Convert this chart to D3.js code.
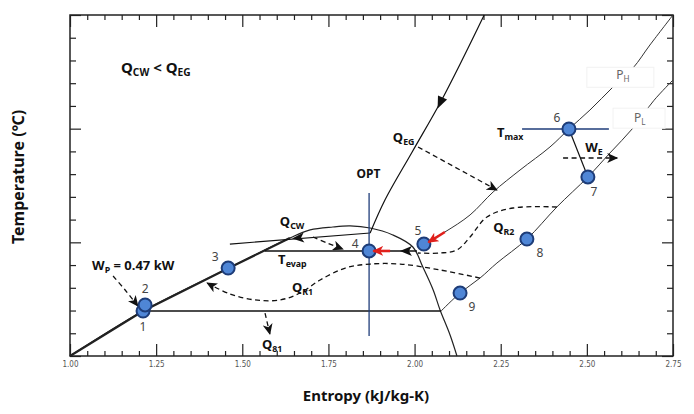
<!DOCTYPE html>
<html><head><meta charset="utf-8">
<script src="https://cdn.jsdelivr.net/npm/d3@7/dist/d3.min.js"></script>
<style>
body{margin:0;background:#fff;}
text{font-family:"Noto Sans","Open Sans",sans-serif;}
</style>
</head><body>
<svg id="c" width="694" height="414"></svg>
<script>
// ---------- data ----------
const xTicks = [1.00, 1.25, 1.50, 1.75, 2.00, 2.25, 2.50, 2.75];
const xTickLabels = ["1.00", "1.25", "1.50", "1.75", "2.00", "2.25", "2.50", "2.75"];
const yTicks = [0, 100, 200, 300];

// saturation dome (entropy, temperature)
const domeS = [1.000, 1.212, 1.461, 1.638, 1.697, 1.763, 1.813, 1.871, 1.937, 1.995, 2.024, 2.054, 2.074, 2.103, 2.123];
const domeT = [0.0, 39.6, 77.4, 103.8, 110.9, 113.5, 114.4, 112.6, 106.5, 95.9, 78.3, 58.1, 40.5, 18.5, 0.0];

// high-pressure isobar P_H
const phS = [2.030, 2.088, 2.161, 2.228, 2.306, 2.393, 2.448, 2.509, 2.576, 2.634, 2.683, 2.750];
const phT = [99.4, 109.1, 124.1, 144.3, 163.6, 183.9, 199.7, 216.4, 236.7, 253.4, 273.6, 300.0];

// low-pressure isobar P_L
const plS = [1.212, 2.077, 2.132, 2.190, 2.239, 2.326, 2.413, 2.503, 2.567, 2.634, 2.695, 2.750];
const plT = [39.6, 39.6, 55.4, 68.6, 81.8, 102.9, 131.1, 157.5, 178.6, 200.6, 225.0, 242.8];

// exhaust gas line Q_EG
const egS = [1.871, 1.914, 1.993, 2.074, 2.138, 2.202];
const egT = [108.2, 137.2, 179.5, 222.6, 260.4, 300.0];

// cooling water line Q_CW and evaporation line T_evap
const cwS = [1.464, 1.871];
const cwT = [98.5, 108.2];
const evapS = [1.565, 2.007];
const evapT = [92.4, 92.4];

// cycle state points
const stateLabels = ["1", "2", "3", "4", "5", "6", "7", "8", "9"];
const stateS = [1.212, 1.218, 1.459, 1.868, 2.027, 2.448, 2.503, 2.326, 2.132];
const stateT = [39.6, 44.9, 77.4, 92.4, 98.5, 199.7, 157.5, 102.9, 55.4];

// reference lines
const optS = 1.868, optT = [17.6, 143.4];
const tmaxT = 199.7, tmaxS = [2.312, 2.564];

// dashed heat-flow curves
const qr1S = [2.190, 2.074, 1.958, 1.871, 1.799, 1.726, 1.668, 1.609, 1.537, 1.464, 1.398];
const qr1T = [68.6, 75.7, 80.9, 80.9, 77.4, 66.9, 55.4, 49.3, 49.3, 54.6, 64.2];
const qr2S = [2.413, 2.286, 2.210, 2.161, 2.123, 2.074, 2.010];
const qr2T = [131.1, 130.2, 122.3, 104.7, 93.3, 90.6, 90.6];
const qegArrowS = [2.010, 2.239], qegArrowT = [183.9, 146.0];
const qcwArrowS = [1.705, 1.750, 1.792], qcwArrowT = [104.7, 99.0, 94.1];
const wpArrowS = [1.125, 1.160, 1.197], wpArrowT = [70.4, 58.1, 44.0];
const q81ArrowS = [1.566, 1.580], q81ArrowT = [37.8, 19.4];
const weArrowS = [2.431, 2.588], weArrowT = [174.2, 174.2];

// red arrows
const red1S = [2.088, 2.040], red1T = [109.1, 100.0];
const red2S = [1.929, 1.880], red2T = [92.4, 92.4];

// ---------- layout ----------
const svg = d3.select("#c");
const L = 70, R = 673, T0 = 15, B = 356;
const x = d3.scaleLinear().domain([1.0, 2.75]).range([L, R]);
const y = d3.scaleLinear().domain([0, 300]).range([B, T0]);
const zip = (a, b) => a.map((v, i) => [v, b[i]]);
const line = d3.line().x(d => x(d[0])).y(d => y(d[1]));
const curve = d3.line().x(d => x(d[0])).y(d => y(d[1])).curve(d3.curveCatmullRom.alpha(0.5));

const defs = svg.append("defs");
function marker(id, color) {
  defs.append("marker").attr("id", id).attr("markerUnits", "userSpaceOnUse")
    .attr("markerWidth", 12).attr("markerHeight", 10).attr("refX", 10).attr("refY", 5)
    .attr("orient", "auto")
    .append("path").attr("d", "M0,0 L11,5 L0,10 L3,5 Z").attr("fill", color);
}
marker("ab", "#111");
marker("ar", "#e0201c");

// axes
const minorX = d3.range(1.0, 2.7501, 0.05).filter(v => Math.abs(v * 4 - Math.round(v * 4)) > 1e-6);
const minorY = d3.range(0, 300.1, 20).filter(v => v % 100 !== 0);
function ax(gen, tr, vals, size, fmt) {
  const g = svg.append("g").attr("transform", tr)
    .call(gen.tickValues(vals).tickSize(size).tickPadding(4).tickFormat(fmt));
  g.select(".domain").remove();
  g.selectAll("line").attr("stroke", "#222").attr("stroke-width", 1.2);
  return g;
}
const gx = ax(d3.axisBottom(x), `translate(0,${B})`, xTicks, -12, (d, i) => xTickLabels[i]);
gx.selectAll("text").attr("font-size", 8).attr("fill", "#555")
  .style("font-family", "'DejaVu Sans Condensed','DejaVu Sans',sans-serif").attr("dy", "0.9em");
ax(d3.axisBottom(x), `translate(0,${B})`, minorX, -5, "");
ax(d3.axisTop(x), `translate(0,${T0})`, xTicks, -12, "");
ax(d3.axisTop(x), `translate(0,${T0})`, minorX, -5, "");
ax(d3.axisLeft(y), `translate(${L},0)`, yTicks, -11, "");
ax(d3.axisLeft(y), `translate(${L},0)`, minorY, -6, "");
ax(d3.axisRight(y), `translate(${R},0)`, yTicks, -11, "");
ax(d3.axisRight(y), `translate(${R},0)`, minorY, -6, "");
svg.append("rect").attr("x", L).attr("y", T0).attr("width", R - L).attr("height", B - T0)
  .attr("fill", "none").attr("stroke", "#222").attr("stroke-width", 1.5);

// lines
const P = svg.append("g").attr("fill", "none");
P.append("path").attr("d", curve(zip(domeS, domeT))).attr("stroke", "#222").attr("stroke-width", 1.2);
P.append("path").attr("d", line(zip(domeS.slice(0, 4), domeT.slice(0, 4)))).attr("stroke", "#222").attr("stroke-width", 2.2);
P.append("path").attr("d", curve(zip(phS, phT))).attr("stroke", "#333").attr("stroke-width", 1);
P.append("path").attr("d", line(zip(plS.slice(0, 2), plT.slice(0, 2)))).attr("stroke", "#111").attr("stroke-width", 1.4);
P.append("path").attr("d", curve(zip(plS.slice(1), plT.slice(1)))).attr("stroke", "#333").attr("stroke-width", 1);
P.append("path").attr("d", curve(zip(egS, egT))).attr("stroke", "#111").attr("stroke-width", 1.2);
P.append("path").attr("d", line(zip(cwS, cwT))).attr("stroke", "#111").attr("stroke-width", 1.2);
P.append("path").attr("d", line(zip(evapS, evapT))).attr("stroke", "#111").attr("stroke-width", 1.4);
P.append("path").attr("d", line([[stateS[5], stateT[5]], [stateS[6], stateT[6]]])).attr("stroke", "#111").attr("stroke-width", 1.2);
// blue reference lines
P.append("path").attr("d", line([[optS, optT[0]], [optS, optT[1]]])).attr("stroke", "#1f3d7a").attr("stroke-width", 1.3);
P.append("path").attr("d", line([[tmaxS[0], tmaxT], [tmaxS[1], tmaxT]])).attr("stroke", "#1f3d7a").attr("stroke-width", 1.3);

// mid-line arrowheads
function headAt(s, t, s2, t2, shape) {
  const x1 = x(s), y1 = y(t), a = Math.atan2(y(t2) - y1, x(s2) - x1) * 180 / Math.PI;
  const d = shape === "tri" ? "M6,0 L-6,-5 L-6,5 Z" : "M5,0 L-7,-5 L-4,0 L-7,5 Z";
  svg.append("path").attr("d", d).attr("fill", "#111")
    .attr("transform", `translate(${x1},${y1}) rotate(${a})`);
}
headAt(2.074, 222.6, 2.040, 200, "tri");
headAt(1.659, 103.8, 1.600, 102.4, "chev");
headAt(1.972, 92.4, 1.900, 92.4, "chev");

// dashed arrows
const D = svg.append("g").attr("fill", "none").attr("stroke", "#111").attr("stroke-width", 1.3).attr("stroke-dasharray", "5,3.5");
D.append("path").attr("d", curve(zip(qr1S, qr1T))).attr("marker-end", "url(#ab)");
D.append("path").attr("d", curve(zip(qr2S, qr2T)));
D.append("path").attr("d", line(zip(qegArrowS, qegArrowT))).attr("marker-end", "url(#ab)");
D.append("path").attr("d", curve(zip(qcwArrowS, qcwArrowT))).attr("marker-end", "url(#ab)");
D.append("path").attr("d", curve(zip(wpArrowS, wpArrowT))).attr("marker-end", "url(#ab)");
D.append("path").attr("d", line(zip(q81ArrowS, q81ArrowT))).attr("marker-end", "url(#ab)");
D.append("path").attr("d", line(zip(weArrowS, weArrowT))).attr("marker-end", "url(#ab)");

// white label boxes for P_H / P_L
svg.append("rect").attr("x", x(2.500)).attr("y", y(254)).attr("width", 67).attr("height", 20).attr("fill", "#fff").attr("stroke", "#f2f2f2");
svg.append("rect").attr("x", x(2.576)).attr("y", y(218)).attr("width", 52).attr("height", 20).attr("fill", "#fff").attr("stroke", "#f2f2f2");

// state points
const pts = svg.append("g");
pts.selectAll("circle").data(stateS).join("circle")
  .attr("cx", d => x(d)).attr("cy", (d, i) => y(stateT[i])).attr("r", 6.5)
  .attr("fill", "#4f86d6").attr("stroke", "#1d3c78").attr("stroke-width", 2);
const off = [[0, 20], [0, -12], [-13, -7], [-14, -3], [-6, -9], [-12, -7], [6, 19], [13, 18], [12, 18]];
pts.selectAll("text").data(stateLabels).join("text")
  .attr("x", (d, i) => x(stateS[i]) + off[i][0]).attr("y", (d, i) => y(stateT[i]) + off[i][1])
  .attr("text-anchor", "middle").attr("font-size", 12).attr("fill", "#444").text(d => d);

// red arrows (drawn over the points)
svg.append("path").attr("d", line(zip(red1S, red1T))).attr("stroke", "#e0201c").attr("stroke-width", 2.6).attr("fill", "none").attr("marker-end", "url(#ar)");
svg.append("path").attr("d", line(zip(red2S, red2T))).attr("stroke", "#e0201c").attr("stroke-width", 2.6).attr("fill", "none").attr("marker-end", "url(#ar)");

// rich labels with subscripts
function rich(s, t, parts, size, opts = {}) {
  const tx = svg.append("text").attr("x", x(s)).attr("y", y(t)).attr("font-size", size)
    .attr("font-weight", opts.weight || 700).attr("fill", opts.color || "#111")
    .attr("text-anchor", opts.anchor || "start");
  parts.forEach(p => {
    const isSub = p[1] === "sub";
    const sp = tx.append("tspan").text(p[0]);
    if (isSub) sp.attr("font-size", size * 0.68).attr("dy", size * 0.22);
    else if (p[2]) sp.attr("dy", -size * 0.22);
  });
  return tx;
}
rich(1.148, 249.0, [["Q"], ["CW", "sub"], [" < Q", "", true], ["EG", "sub"]], 15);
rich(1.866, 156.6, [["OPT"]], 12, { anchor: "middle" });
rich(1.937, 188.3, [["Q"], ["EG", "sub"]], 13);
rich(2.239, 192.7, [["T"], ["max", "sub"]], 13);
rich(2.495, 179.5, [["W"], ["E", "sub"]], 13);
rich(2.585, 243.7, [["P"], ["H", "sub"]], 12, { weight: 400, color: "#666" });
rich(2.637, 205.9, [["P"], ["L", "sub"]], 12, { weight: 400, color: "#666" });
rich(1.609, 114.4, [["Q"], ["CW", "sub"]], 13);
rich(1.604, 80.9, [["T"], ["evap", "sub"]], 13);
rich(1.644, 56.3, [["Q"], ["R1", "sub"]], 13);
rich(2.228, 109.1, [["Q"], ["R2", "sub"]], 13);
rich(1.557, 6.2, [["Q"], ["81", "sub"]], 13);
rich(1.064, 75.7, [["W"], ["P", "sub"], [" = 0.47 kW", "", true]], 13);

// axis titles
svg.append("text").attr("x", 366).attr("y", 401).attr("text-anchor", "middle")
  .attr("font-size", 15).attr("font-weight", 700).attr("fill", "#111").text("Entropy (kJ/kg-K)");
svg.append("text").attr("transform", `translate(24,177) rotate(-90)`).attr("text-anchor", "middle")
  .attr("font-size", 16).attr("font-weight", 700).attr("fill", "#111").text("Temperature (℃)");
</script>
</body></html>
